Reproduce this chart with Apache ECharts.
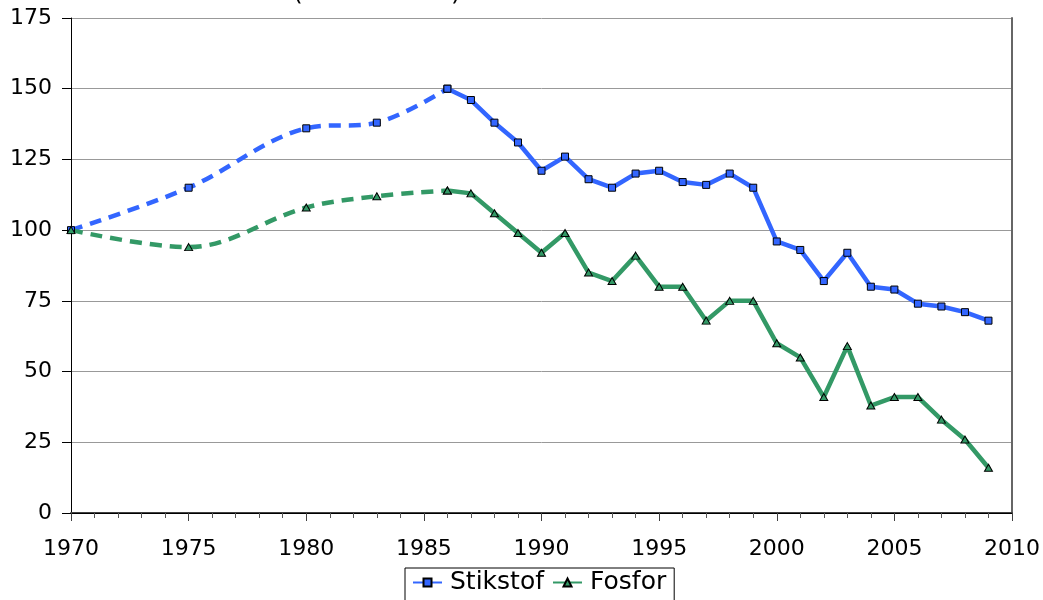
<!DOCTYPE html>
<html>
<head>
<meta charset="utf-8">
<title>Stikstof og Fosfor</title>
<script src="https://cdn.jsdelivr.net/npm/echarts@6/dist/echarts.min.js"></script>
<style>
    html, body { margin: 0; padding: 0; background: #fff; }
    #chart { width: 1043px; height: 600px; }
</style>
</head>
<body>
<div id="chart"></div>
<script>
//årstal
var years = [1970, 1975, 1980, 1983, 1986, 1987, 1988, 1989, 1990, 1991, 1992, 1993, 1994, 1995,
    1996, 1997, 1998, 1999, 2000, 2001, 2002, 2003, 2004, 2005, 2006, 2007, 2008, 2009];
//stikstof indeks
var stikstof = [100, 115, 136, 138, 150, 146, 138, 131, 121, 126, 118, 115, 120, 121,
    117, 116, 120, 115, 96, 93, 82, 92, 80, 79, 74, 73, 71, 68];
//fosfor indeks
var fosfor = [100, 94, 108, 112, 114, 113, 106, 99, 92, 99, 85, 82, 91, 80,
    80, 68, 75, 75, 60, 55, 41, 59, 38, 41, 41, 33, 26, 16];
var lastDashedYear = 1986;//stiplet linje frem til 1986
var titleText = '(1970 = 100)';

var fontName = '"DejaVu Sans", Verdana, sans-serif';
var blue = '#3366FF';
var green = '#339966';

//byg punktlister
function pairs(vals, dashed) {
    var list = [];
    for (var i = 0; i < years.length; i++) {
        if (dashed && years[i] <= lastDashedYear) list.push([years[i], vals[i]]);
        if (!dashed && years[i] >= lastDashedYear) list.push([years[i], vals[i]]);
    }
    return list;
}

function lineSeries(name, vals, color, symbol, size, dashed) {
    return {
        name: name,
        type: 'line',
        data: pairs(vals, dashed),
        smooth: dashed ? 0.35 : false,
        symbol: symbol,
        symbolSize: size,
        showAllSymbol: true,
        lineStyle: { color: color, width: 4.5, type: dashed ? [12, 8] : 'solid' },
        itemStyle: { color: color, borderColor: '#000', borderWidth: 1 },
        z: dashed ? 2 : 3
    };
}

var myChart = echarts.init(document.getElementById('chart'));

var option = {
    animation: false,
    textStyle: { fontFamily: fontName },
    title: {
        text: titleText,
        left: 288,
        top: -24,
        textStyle: { fontFamily: fontName, fontSize: 25, fontWeight: 'normal', color: '#000' }
    },
    legend: {
        data: ['Stikstof', 'Fosfor'],
        left: 405,
        top: 568,
        itemWidth: 29,
        itemHeight: 10,
        itemGap: 8,
        padding: [2, 8, 12, 7],
        borderColor: '#000',
        borderWidth: 1,
        textStyle: { fontFamily: fontName, fontSize: 25, color: '#000', padding: [0, 0, 0, 3] }
    },
    grid: { left: 71, right: 30, top: 18, bottom: 87 },
    xAxis: [{
        type: 'value',
        min: 1970,
        max: 2010,
        interval: 5,
        axisLine: { lineStyle: { color: '#404040', width: 2 } },
        axisTick: { length: 8, lineStyle: { color: '#404040' } },
        minorTick: { show: true, splitNumber: 5, length: 5, lineStyle: { color: '#555' } },
        splitLine: { show: false },
        axisLabel: {
            margin: 25, fontSize: 22, color: '#000', fontFamily: fontName,
            formatter: function (v) { return String(v); }
        }
    }, {
        type: 'value',
        position: 'top',
        min: 1970,
        max: 2010,
        axisLine: { lineStyle: { color: '#000', width: 1 } },
        axisTick: { show: false },
        axisLabel: { show: false },
        splitLine: { show: false }
    }],
    yAxis: [{
        type: 'value',
        min: 0,
        max: 175,
        interval: 25,
        axisLine: { show: true, lineStyle: { color: '#000', width: 1 } },
        axisTick: { show: true, length: 9, lineStyle: { color: '#000' } },
        splitLine: { lineStyle: { color: '#999', width: 1 } },
        axisLabel: { margin: 19, fontSize: 22, color: '#000', fontFamily: fontName }
    }, {
        type: 'value',
        position: 'right',
        min: 0,
        max: 175,
        interval: 25,
        axisLine: { show: true, lineStyle: { color: '#666', width: 2 } },
        axisTick: { show: false },
        axisLabel: { show: false },
        splitLine: { show: false }
    }],
    series: [
        lineSeries('Stikstof 1970-1986', stikstof, blue, 'rect', 7, true),
        lineSeries('Fosfor 1970-1986', fosfor, green, 'triangle', [8, 7], true),
        lineSeries('Stikstof', stikstof, blue, 'rect', 7, false),
        lineSeries('Fosfor', fosfor, green, 'triangle', [8, 7], false)
    ]
};
myChart.setOption(option);
</script>
</body>
</html>
